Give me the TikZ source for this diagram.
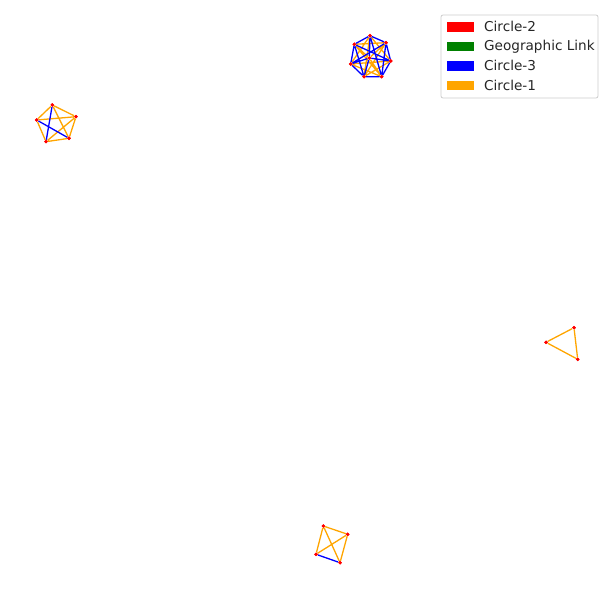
\documentclass[tikz,border=0pt]{standalone}
\usepackage{fontspec}
\setmainfont{DejaVu Sans}
\definecolor{mplorange}{RGB}{255,165,0}
\definecolor{mplgreen}{RGB}{0,128,0}
\begin{document}
\begin{tikzpicture}[x=1pt,y=-1pt,
  vtx/.style={circle,fill=red,inner sep=0pt,minimum size=3.6pt},
  cone/.style={draw=mplorange,line width=1.3pt},
  cthree/.style={draw=blue,line width=1.3pt},
  patch/.style={minimum width=28pt,minimum height=10.5pt,inner sep=0pt,draw=white,line width=0.5pt},
  lbl/.style={anchor=west,font=\fontsize{13.6}{16}\selectfont,inner sep=0pt,text=black!85}]
\useasboundingbox (0,0) rectangle (614,599);
% cluster 1
\node[vtx] (a1) at (370,35.7) {};
\node[vtx] (b1) at (354.3,44.3) {};
\node[vtx] (c1) at (386,42.7) {};
\node[vtx] (d1) at (369.3,58) {};
\node[vtx] (e1) at (390.7,61) {};
\node[vtx] (f1) at (350.7,64) {};
\node[vtx] (g1) at (381.7,76.7) {};
\node[vtx] (h1) at (364,76.7) {};
\draw[cone] (a1)--(f1) (a1)--(h1) (b1)--(c1) (b1)--(g1) (c1)--(h1) (c1)--(d1) (e1)--(f1) (e1)--(h1) (f1)--(g1) (d1)--(g1) (a1)--(e1) (b1)--(d1);
\draw[cthree] (a1)--(b1) (a1)--(c1) (b1)--(f1) (f1)--(h1) (h1)--(g1) (g1)--(e1) (e1)--(c1) (a1)--(d1) (b1)--(e1) (c1)--(f1) (a1)--(g1) (b1)--(h1) (c1)--(g1) (d1)--(f1) (d1)--(e1) (d1)--(h1);
% cluster 2
\node[vtx] (a2) at (52.3,105) {};
\node[vtx] (b2) at (76,116.7) {};
\node[vtx] (c2) at (36.7,120) {};
\node[vtx] (d2) at (69,138.3) {};
\node[vtx] (e2) at (46,141.7) {};
\draw[cone] (a2)--(b2) (a2)--(c2) (c2)--(e2) (e2)--(d2) (d2)--(b2) (c2)--(b2) (a2)--(d2) (e2)--(b2);
\draw[cthree] (a2)--(e2) (c2)--(d2);
% cluster 3
\node[vtx] (a3) at (574,327.7) {};
\node[vtx] (b3) at (546,342.3) {};
\node[vtx] (c3) at (577.7,359.3) {};
\draw[cone] (a3)--(b3) (b3)--(c3) (c3)--(a3);
% cluster 4
\node[vtx] (a4) at (323.3,526) {};
\node[vtx] (b4) at (347.7,534.3) {};
\node[vtx] (c4) at (316,554.3) {};
\node[vtx] (d4) at (340,562.7) {};
\draw[cone] (a4)--(b4) (a4)--(c4) (b4)--(d4) (a4)--(d4) (b4)--(c4);
\draw[cthree] (c4)--(d4);
% redraw vertices on top
\foreach \n in {a1,b1,c1,d1,e1,f1,g1,h1,a2,b2,c2,d2,e2,a3,b3,c3,a4,b4,c4,d4}
  \fill[red] (\n) circle (1.8pt);
% legend
\node[draw=black!20,fill=white,rounded corners=2pt,line width=0.8pt,minimum width=157pt,minimum height=83pt,inner sep=0pt] (leg) at (519.5,56.5) {};
\node[patch,fill=red] (p1) at (460,26.7) {};
\node[patch,fill=mplgreen] (p2) at (460,46.3) {};
\node[patch,fill=blue] (p3) at (460,65.7) {};
\node[patch,fill=mplorange] (p4) at (460,85.3) {};
\node[lbl] (l1) at (484,26.7) {Circle-2};
\node[lbl] (l2) at (484,46.3) {Geographic Link};
\node[lbl] (l3) at (484,65.7) {Circle-3};
\node[lbl] (l4) at (484,85.3) {Circle-1};
\end{tikzpicture}
\end{document}
